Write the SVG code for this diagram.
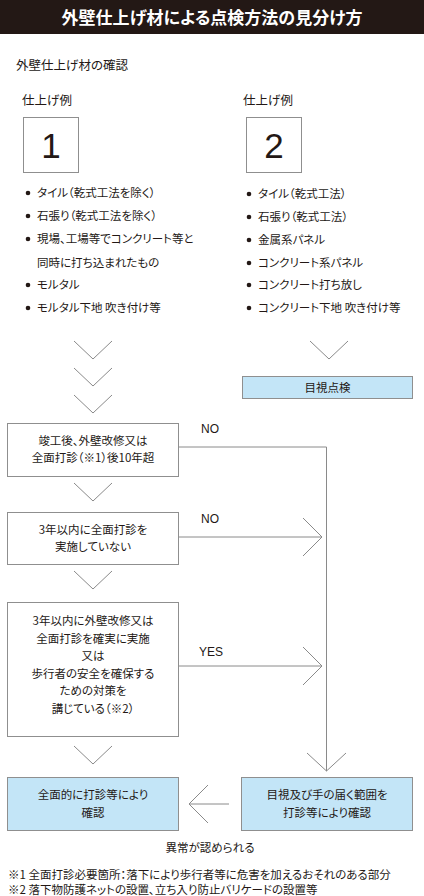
<svg xmlns="http://www.w3.org/2000/svg" width="424" height="896" viewBox="0 0 424 896">
<style>
text{font-family:"Noto Sans CJK JP","Noto Sans",sans-serif;fill:#231815;font-feature-settings:"palt";}
.t{font-size:11.5px;}
.c{text-anchor:middle;}
.lat{font-family:"Liberation Sans","Noto Sans CJK JP",sans-serif;font-size:12px;}
.box{fill:#fff;stroke:#8f8f8f;stroke-width:1;}
.blue{fill:#c3e5f7;stroke:#8f8f8f;stroke-width:1;}
.ln{fill:none;stroke:#8a8a8a;stroke-width:1;}
.num{font-family:"Liberation Sans",sans-serif;font-size:35px;text-anchor:middle;}
</style>
<rect x="0" y="0" width="424" height="34" fill="#231815"/>
<text x="212" y="24" class="c" style="font-size:17px;font-weight:bold;fill:#fff">外壁仕上げ材による点検方法の見分け方</text>
<text x="16" y="70" style="font-size:12.5px">外壁仕上げ材の確認</text>
<g id="col1">
<text x="22" y="105" style="font-size:12.5px">仕上げ例</text>
<rect class="box" x="23.5" y="117.5" width="55" height="55"/>
<text x="51" y="158" class="num">1</text>
<g class="t">
<circle cx="28" cy="193" r="2.3" fill="#231815"/><text x="37" y="197">タイル（乾式工法を除く）</text>
<circle cx="28" cy="216" r="2.3" fill="#231815"/><text x="37" y="220">石張り（乾式工法を除く）</text>
<circle cx="28" cy="239" r="2.3" fill="#231815"/><text x="37" y="243">現場、工場等でコンクリート等と</text>
<text x="37" y="267">同時に打ち込まれたもの</text>
<circle cx="28" cy="285" r="2.3" fill="#231815"/><text x="37" y="289">モルタル</text>
<circle cx="28" cy="308" r="2.3" fill="#231815"/><text x="37" y="312">モルタル下地 吹き付け等</text>
</g>
</g>
<g id="col2">
<text x="243" y="105" style="font-size:12.5px">仕上げ例</text>
<rect class="box" x="246.5" y="117.5" width="55" height="55"/>
<text x="274" y="158" class="num">2</text>
<g class="t">
<circle cx="249" cy="194" r="2.3" fill="#231815"/><text x="258" y="198">タイル（乾式工法）</text>
<circle cx="249" cy="217" r="2.3" fill="#231815"/><text x="258" y="221">石張り（乾式工法）</text>
<circle cx="249" cy="240" r="2.3" fill="#231815"/><text x="258" y="244">金属系パネル</text>
<circle cx="249" cy="263" r="2.3" fill="#231815"/><text x="258" y="267">コンクリート系パネル</text>
<circle cx="249" cy="285" r="2.3" fill="#231815"/><text x="258" y="289">コンクリート打ち放し</text>
<circle cx="249" cy="308" r="2.3" fill="#231815"/><text x="258" y="312">コンクリート下地 吹き付け等</text>
</g>
</g>
<g id="visual">
<rect class="blue" x="242.5" y="376.5" width="170" height="22"/>
<text x="327.5" y="391.5" class="t c">目視点検</text>
</g>
<g id="q1">
<rect class="box" x="7.5" y="423.5" width="171" height="53"/>
<text x="93" y="445" class="t c">竣工後、外壁改修又は</text>
<text x="93" y="462" class="t c">全面打診（※1）後10年超</text>
</g>
<g id="q2">
<rect class="box" x="7.5" y="512.5" width="171" height="52"/>
<text x="93" y="534" class="t c">3年以内に全面打診を</text>
<text x="93" y="551" class="t c">実施していない</text>
</g>
<g id="q3">
<rect class="box" x="7.5" y="602.5" width="171" height="134"/>
<text x="93" y="625" class="t c">3年以内に外壁改修又は</text>
<text x="93" y="642.5" class="t c">全面打診を確実に実施</text>
<text x="93" y="660" class="t c">又は</text>
<text x="93" y="677.5" class="t c">歩行者の安全を確保する</text>
<text x="93" y="695" class="t c">ための対策を</text>
<text x="93" y="712.5" class="t c">講じている（※2）</text>
</g>
<g id="full">
<rect class="blue" x="7.5" y="777.5" width="171" height="53"/>
<text x="93" y="799" class="t c">全面的に打診等により</text>
<text x="93" y="817" class="t c">確認</text>
</g>
<g id="partial">
<rect class="blue" x="241.5" y="777.5" width="171" height="53"/>
<text x="327" y="799" class="t c">目視及び手の届く範囲を</text>
<text x="327" y="817" class="t c">打診等により確認</text>
</g>
<g id="connectors">
<polyline class="ln" points="74,341 93,359 112,341"/>
<polyline class="ln" points="74,368 93,386 112,368"/>
<polyline class="ln" points="74,395 93,413 112,395"/>
<polyline class="ln" points="310,341 329,359 348,341"/>
<polyline class="ln" points="74,483 93,501 112,483"/>
<polyline class="ln" points="74,571 93,589 112,571"/>
<polyline class="ln" points="74,746 93,764 112,746"/>
<polyline class="ln" points="179,447 326.5,447 326.5,771"/>
<polyline class="ln" points="307,753 326.5,771 346,753"/>
<line class="ln" x1="179" y1="537" x2="322" y2="537"/>
<polyline class="ln" points="303,518 322,537 303,556"/>
<line class="ln" x1="179" y1="666" x2="322" y2="666"/>
<polyline class="ln" points="303,647 322,666 303,685"/>
<line class="ln" x1="189" y1="804" x2="229" y2="804"/>
<polyline class="ln" points="208,785 189,804 208,823"/>
<text x="201" y="433" class="lat">NO</text>
<text x="201" y="523" class="lat">NO</text>
<text x="199" y="656" class="lat">YES</text>
<text x="210" y="852" class="t c">異常が認められる</text>
</g>
<text x="8" y="879" class="t">※1 全面打診必要箇所：落下により歩行者等に危害を加えるおそれのある部分</text>
<text x="8" y="894" class="t">※2 落下物防護ネットの設置、立ち入り防止バリケードの設置等</text>
</svg>
